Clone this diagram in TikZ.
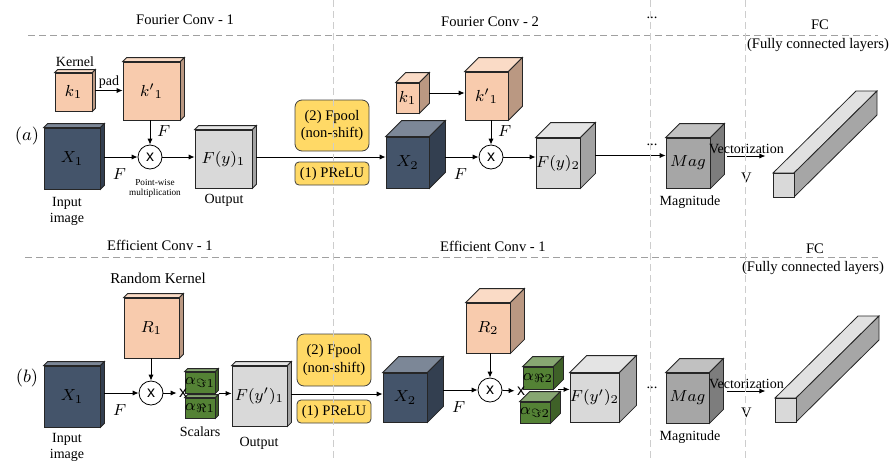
\documentclass[tikz,border=0pt]{standalone}
\usepackage{fontspec}
\setmainfont{Liberation Serif}
\setsansfont{Liberation Sans}
\usepackage{tikz}
\usetikzlibrary{positioning,arrows.meta}
\definecolor{navycolor}{RGB}{68,84,106}
\definecolor{peachcolor}{RGB}{248,203,173}
\definecolor{outcolor}{RGB}{217,217,217}
\definecolor{magcolor}{RGB}{166,166,166}
\definecolor{scalarcolor}{RGB}{84,130,53}
\definecolor{poolcolor}{RGB}{255,217,102}
\definecolor{gridcolor}{RGB}{205,205,205}
\definecolor{rulecolor}{RGB}{160,160,160}

% cube: name, cx, cy, w, h, depth, colour, label (all in px)
\newcommand{\drawcube}[8]{%
  \node[cubeface, fill=#7, minimum width=#4*0.5pt, minimum height=#5*0.5pt] (#1) at (#2,#3) {#8};
  \filldraw[cubeedge, fill=#7!70!white] (#1.north west) -- ++(#6,-#6) -- ([shift={(#6,-#6)}]#1.north east) -- (#1.north east) -- cycle;
  \filldraw[cubeedge, fill=#7!75!black] (#1.north east) -- ++(#6,-#6) -- ([shift={(#6,-#6)}]#1.south east) -- (#1.south east) -- cycle;
  \coordinate (#1-e) at ([shift={(#6,-#6/2)}]#1.east);
}

\tikzset{
  cubeface/.style={draw=black!85, line width=0.4pt, inner sep=0pt, font=\fontsize{8.5}{9}\selectfont},
  cubeedge/.style={draw=black!85, line width=0.4pt},
  mult/.style={circle, draw, line width=0.4pt, minimum size=12pt, inner sep=0pt, font=\sffamily\fontsize{8}{9}\selectfont},
  multx/.style={inner sep=1pt, font=\sffamily\fontsize{8}{9}\selectfont},
  poolbox/.style={draw=black!75, fill=poolcolor, line width=0.4pt, align=center, inner sep=0pt, minimum width=37pt, font=\fontsize{7.3}{8.8}\selectfont},
  headline/.style={font=\fontsize{7.3}{8.8}\selectfont},
  smalltext/.style={font=\fontsize{7}{8}\selectfont, align=center},
  tinytext/.style={font=\fontsize{4.6}{5}\selectfont, align=center},
  mathlabel/.style={font=\fontsize{8.5}{9}\selectfont},
  flow/.style={->, line width=0.45pt},
  hrule/.style={draw=rulecolor, line width=0.5pt, dash pattern=on 3.5pt off 2pt},
  vrule/.style={draw=gridcolor, line width=0.5pt, dash pattern=on 3.5pt off 2pt}
}

\begin{document}
\begin{tikzpicture}[
    x=0.5pt, y=-0.5pt,
    >={Latex[length=3pt,width=2.6pt]}
]
\useasboundingbox (0,0) rectangle (892,461);

% Section titles
\node[headline] at (185,20) {Fourier Conv - 1};
\node[headline] at (490,22) {Fourier Conv - 2};
\node[headline] at (652,18) {...};
\node[headline] at (820,25) {FC};
\node[headline] at (818,45) {(Fully connected layers)};
\node[headline] at (160,245) {Efficient Conv - 1};
\node[headline] at (493,246) {Efficient Conv - 1};
\node[headline] at (815,249) {FC};
\node[headline] at (813,268) {(Fully connected layers)};

\draw[hrule] (28,35) -- (878,35);
\draw[hrule] (25,257) -- (878,257);

%%% (a) Fourier convolution
\node[font=\fontsize{9}{9}\selectfont] at (27,136) {$(a)$};
\drawcube{k1a}{73.5}{92}{37}{38}{3}{peachcolor}{$k_1$}
\drawcube{kp1a}{151.5}{91}{57}{58}{4}{peachcolor}{${k'}_1$}
\drawcube{x1a}{72}{158.5}{56}{61}{4}{navycolor}{$X_1$}
\drawcube{ya}{223.5}{159}{57}{58}{4}{outcolor}{$F(y)_1$}
\node[mult] (ma) at (150,157) {x};
\node[smalltext] at (75,62) {Kernel};
\node[smalltext] at (67,211) {Input\\image};
\node[tinytext] at (155,188) {Point-wise\\multiplication};
\node[smalltext] at (224,200) {Output};

\draw[flow] (k1a-e) -- (k1a-e -| kp1a.west) node[midway, above, smalltext, inner sep=1pt] {pad};
\draw[flow] (ma |- kp1a.south) -- (ma) node[pos=0.45, right, mathlabel] {$F$};
\draw[flow] (ma -| x1a-e) -- (ma) node[pos=0.45, below=2pt, mathlabel] {$F$};
\draw[flow] (ma) -- (ma -| ya.west);

% nonlinearity + pooling
\node[poolbox, minimum height=25.5pt, rounded corners=3.5pt] (pool2a) at (332,125.5) {(2) Fpool\\(non-shift)};
\node[poolbox, minimum height=11.5pt, rounded corners=2pt] (pool1a) at (332,173.5) {(1) PReLU};

\drawcube{x2a}{407.5}{162.5}{43}{51}{16}{navycolor}{$X_2$}
\drawcube{k2a}{407.5}{98}{23}{30}{10}{peachcolor}{$k_1$}
\drawcube{kp2a}{486.5}{96}{43}{48}{14}{peachcolor}{${k'}_1$}
\drawcube{y2a}{558}{163}{44}{50}{15}{outcolor}{$F(y)_2$}
\drawcube{maga}{688}{163}{44}{50}{14}{magcolor}{$Mag$}
\node[mult] (mb) at (491,157) {x};

\draw[flow] (ya-e) -- (ya-e -| x2a.west);
\draw[flow] (k2a-e) -- (k2a-e -| kp2a.west);
\draw[flow] (mb |- kp2a.south) -- (mb) node[pos=0.45, right, mathlabel] {$F$};
\draw[flow] (mb -| x2a-e) -- (mb) node[pos=0.45, below=2pt, mathlabel] {$F$};
\draw[flow] (mb) -- (mb -| y2a.west);
\draw[flow] (y2a-e) -- (y2a-e -| maga.west);
\node[headline] at (652,145) {...};
\node[smalltext] at (690,202) {Magnitude};

\coordinate (veca) at ([shift={(3,0)}]maga-e);
\draw[flow] (veca) -- ++(38,0) node[midway, above, smalltext, inner sep=1pt] {Vectorization}
    node[midway, below=5pt, headline] {V};

%%% (b) efficient convolution
\node[font=\fontsize{9}{9}\selectfont] at (27,378) {$(b)$};
\drawcube{x1b}{72}{396.5}{56}{61}{4}{navycolor}{$X_1$}
\drawcube{r1b}{151.5}{328}{55}{60}{4}{peachcolor}{$R_1$}
\drawcube{s1b}{200}{382.5}{18}{21}{3}{scalarcolor}{$\alpha_{\Im 1}$}
\drawcube{s2b}{200}{408}{18}{20}{3}{scalarcolor}{$\alpha_{\Re 1}$}
\drawcube{yb}{259.5}{396}{55}{60}{4}{outcolor}{$F(y')_1$}
\node[mult] (mc) at (151,393) {x};
\node[multx] (xb1) at (183,393) {x};
\node[smalltext, font=\fontsize{7.5}{8}\selectfont] at (158,278) {Random Kernel};
\node[smalltext] at (67,447) {Input\\image};
\node[smalltext] at (200,432) {Scalars};
\node[smalltext] at (259,443) {Output};

\draw[flow] (mc |- r1b.south) -- (mc);
\draw[flow] (mc -| x1b-e) -- (mc) node[pos=0.45, below=2pt, mathlabel] {$F$};
\draw[flow] (mc) -- (xb1);
\draw[flow] ([shift={(4,0)}]s1b.south east) -- (s1b.south east -| yb.west);

\node[poolbox, minimum height=26pt, rounded corners=3.5pt] (pool2b) at (334,360) {(2) Fpool\\(non-shift)};
\node[poolbox, minimum height=11.5pt, rounded corners=2pt] (pool1b) at (334,411.5) {(1) PReLU};

\drawcube{x2b}{405}{397.5}{44}{49}{16}{navycolor}{$X_2$}
\drawcube{r2b}{488}{328}{44}{50}{14}{peachcolor}{$R_2$}
\drawcube{s3b}{538}{378}{20}{22}{10}{scalarcolor}{$\alpha_{\Re 2}$}
\drawcube{s4b}{535}{412.5}{20}{21}{10}{scalarcolor}{$\alpha_{\Im 2}$}
\drawcube{y2b}{594.5}{397.5}{43}{49}{17}{outcolor}{$F(y')_2$}
\drawcube{magb}{687.5}{398}{43}{50}{14}{magcolor}{$Mag$}
\node[mult] (md) at (490,390) {x};
\node[multx] (xb2) at (521,391) {x};

\draw[flow] (yb-e) -- (yb-e -| x2b.west);
\draw[flow] (md |- r2b.south) -- (md);
\draw[flow] (md -| x2b-e) -- (md) node[pos=0.45, below=2pt, mathlabel] {$F$};
\draw[flow] (md) -- (xb2);
\draw[flow] ([shift={(5,0)}]s3b.south east) -- (s3b.south east -| y2b.west);
\node[headline] at (652,388) {...};
\node[smalltext] at (690,437) {Magnitude};

\coordinate (vecb) at ([shift={(4,0)}]magb-e);
\draw[flow] (vecb) -- ++(38,0) node[midway, above, smalltext, inner sep=1pt] {Vectorization}
    node[midway, below=5pt, headline] {V};

% FC bars
\foreach \fx/\fy in {773/173, 775/398} {
  \filldraw[cubeedge, fill=outcolor!80!white] (\fx,\fy) -- ++(83,-82) -- ++(21,0) -- ++(-83,82) -- cycle;
  \filldraw[cubeedge, fill=magcolor] (\fx+21,\fy) -- ++(83,-82) -- ++(0,24) -- ++(-83,82) -- cycle;
  \filldraw[cubeedge, fill=outcolor] (\fx,\fy) rectangle ++(21,24);
}

% section separators
\foreach \x in {333,650,745} {
    \draw[vrule] (\x,0) -- (\x,461);
}

\end{tikzpicture}
\end{document}
